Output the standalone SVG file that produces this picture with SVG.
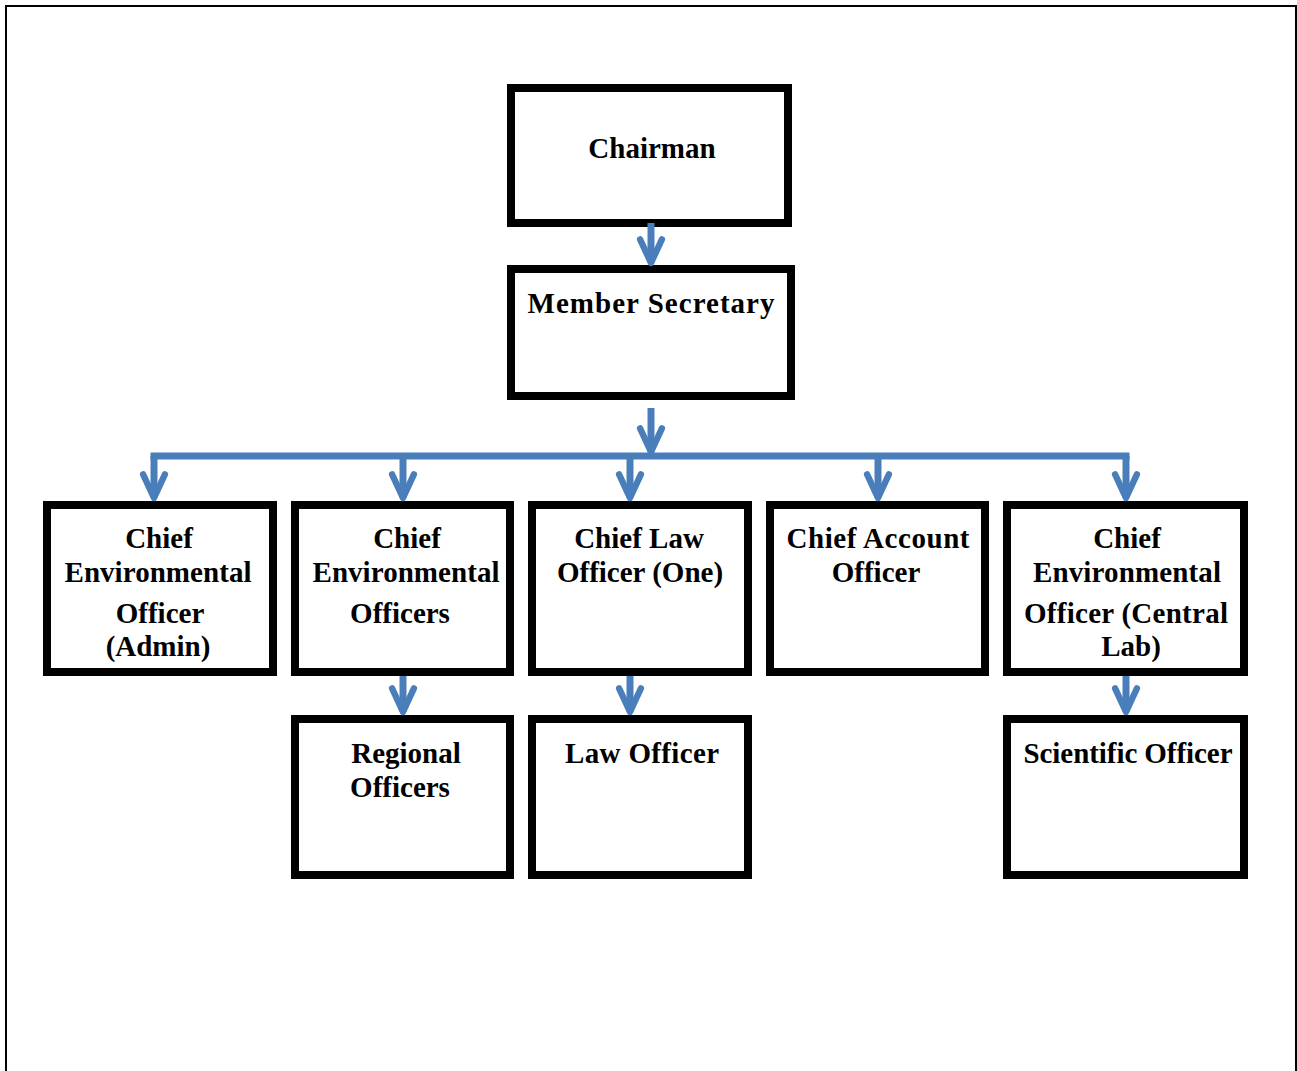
<svg xmlns="http://www.w3.org/2000/svg" width="1297" height="1071" viewBox="0 0 1297 1071">
<style>
.box{fill:#fff;stroke:#000;stroke-width:8}
.t{font-family:"Liberation Serif","Times New Roman",serif;font-weight:bold;font-size:29px;fill:#000;text-anchor:middle}
.c{stroke:#4A7EBB;stroke-width:7;fill:none}
</style>
<defs>
<marker id="chev" markerUnits="userSpaceOnUse" orient="auto" refX="0" refY="0" markerWidth="40" markerHeight="40" viewBox="-40 -20 44 40" overflow="visible">
<path d="M-26 -12 L0 0 L-26 12" fill="none" stroke="#4A7EBB" stroke-width="7" stroke-linecap="round" stroke-linejoin="round"/>
</marker>
</defs>
<rect width="1297" height="1071" fill="#fff"/>
<path d="M6 1071 V6 H1296 V1071" fill="none" stroke="#000" stroke-width="2"/>

<g id="chairman"><rect class="box" x="511" y="88" width="277" height="135"/><text class="t" x="652" y="158">Chairman</text></g>
<g id="member-secretary"><rect class="box" x="511" y="269" width="280" height="127"/><text class="t" x="651" y="313" textLength="247" lengthAdjust="spacing">Member Secretary</text></g>

<g id="ceo-admin"><rect class="box" x="47" y="505" width="226" height="167"/>
<text class="t" x="159" y="548">Chief</text><text class="t" x="158" y="582" textLength="187" lengthAdjust="spacing">Environmental</text><text class="t" x="160" y="623">Officer</text><text class="t" x="158" y="656">(Admin)</text></g>
<g id="ceo-officers"><rect class="box" x="295" y="505" width="215" height="167"/>
<text class="t" x="407" y="548">Chief</text><text class="t" x="406" y="582" textLength="187" lengthAdjust="spacing">Environmental</text><text class="t" x="400" y="623">Officers</text></g>
<g id="chief-law"><rect class="box" x="532" y="505" width="216" height="167"/>
<text class="t" x="639" y="548">Chief Law</text><text class="t" x="640" y="582">Officer (One)</text></g>
<g id="chief-account"><rect class="box" x="770" y="505" width="215" height="167"/>
<text class="t" x="878" y="548" textLength="183" lengthAdjust="spacing">Chief Account</text><text class="t" x="876" y="582">Officer</text></g>
<g id="ceo-central-lab"><rect class="box" x="1007" y="505" width="237" height="167"/>
<text class="t" x="1127" y="548">Chief</text><text class="t" x="1127" y="582" textLength="188" lengthAdjust="spacing">Environmental</text><text class="t" x="1126" y="623" textLength="204" lengthAdjust="spacing">Officer (Central</text><text class="t" x="1131" y="656">Lab)</text></g>

<g id="regional-officers"><rect class="box" x="295" y="719" width="215" height="156"/>
<text class="t" x="406" y="763">Regional</text><text class="t" x="400" y="797">Officers</text></g>
<g id="law-officer"><rect class="box" x="532" y="719" width="216" height="156"/>
<text class="t" x="642" y="763" textLength="154" lengthAdjust="spacing">Law Officer</text></g>
<g id="scientific-officer"><rect class="box" x="1007" y="719" width="237" height="156"/>
<text class="t" x="1128" y="763" textLength="209" lengthAdjust="spacing">Scientific Officer</text></g>

<g id="connectors">
<path class="c" d="M651 223 V263" marker-end="url(#chev)"/>
<path class="c" d="M651 408 V452" marker-end="url(#chev)"/>
<path class="c" d="M150.5 456 H1129.5" stroke-width="8"/>
<path class="c" d="M154 456 V498" marker-end="url(#chev)"/>
<path class="c" d="M403 456 V498" marker-end="url(#chev)"/>
<path class="c" d="M630 456 V498" marker-end="url(#chev)"/>
<path class="c" d="M878 456 V498" marker-end="url(#chev)"/>
<path class="c" d="M1126 456 V498" marker-end="url(#chev)"/>
<path class="c" d="M403 676 V712" marker-end="url(#chev)"/>
<path class="c" d="M630 676 V712" marker-end="url(#chev)"/>
<path class="c" d="M1126 676 V712" marker-end="url(#chev)"/>
</g>
</svg>
